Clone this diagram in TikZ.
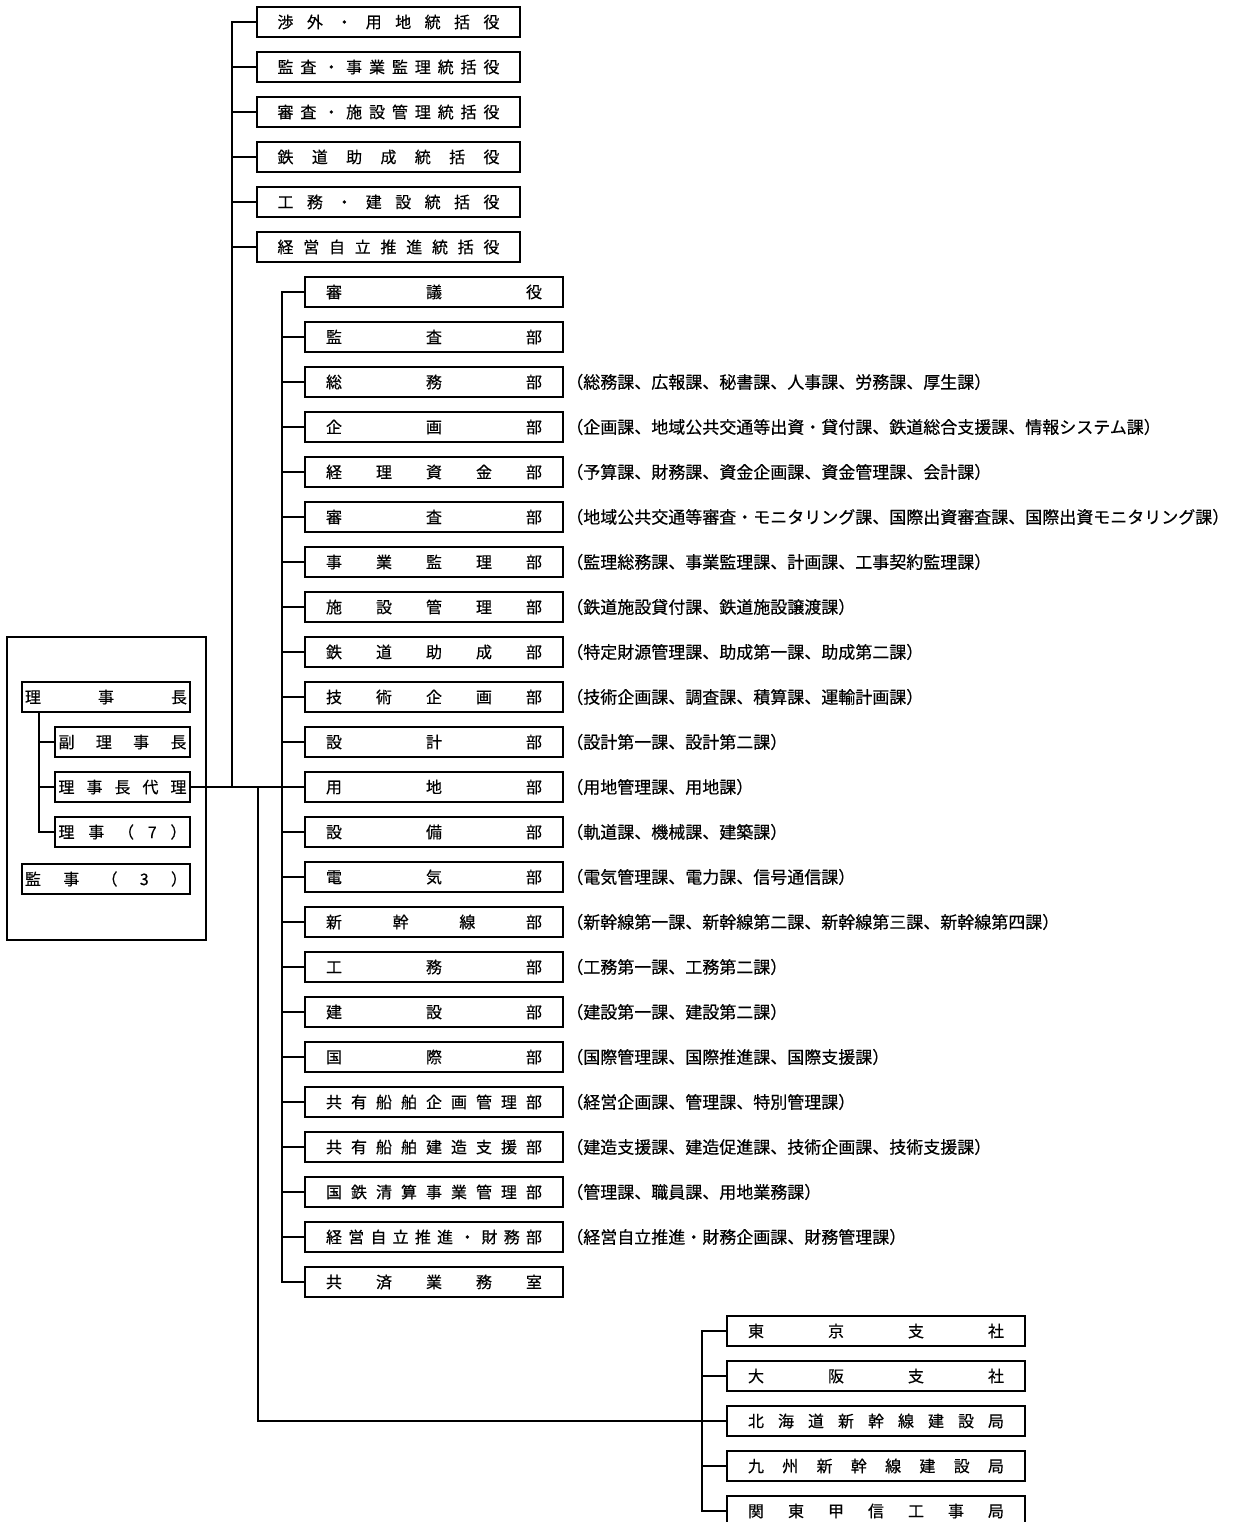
\documentclass[tikz,border=0pt]{standalone}
\usepackage{fontspec}
\setmainfont[FakeBold=0.4]{Noto Sans CJK JP}
\newfontfamily\notefont[FakeBold=0.4]{Noto Sans CJK JP}
\usetikzlibrary{positioning}

% spread the characters of #2 evenly over width #1
\makeatletter
\newcommand\spreadtxt[2]{\makebox[#1][s]{\let\sp@gap\relax\@tfor\sp@c:=#2\do{\sp@gap\sp@c\def\sp@gap{\hfill}}}}
\makeatother

\begin{document}
\begin{tikzpicture}[x=1pt,y=-1pt,line width=1.8pt,font=\fontsize{16}{16}\selectfont]
\tikzstyle{bx}=[draw,inner sep=0pt,minimum height=30pt]
\tikzstyle{tb}=[bx,minimum width=263pt]
\tikzstyle{db}=[bx,minimum width=258pt]
\tikzstyle{bb}=[bx,minimum width=298pt]
\tikzstyle{nt}=[inner sep=0pt,font=\notefont\fontsize{17}{17}\selectfont,right=1.5pt of #1]
\useasboundingbox (0,0) rectangle (1232,1522);
\clip (0,0) rectangle (1232,1522);

% executives
\node[draw,minimum width=199pt,minimum height=303pt] (grp) at (106.5,788.5) {};
\node[bx,minimum width=168pt] (r1) at (106,697) {\spreadtxt{162pt}{理事長}};
\node[bx,minimum width=135pt] (c1) at (122.5,742) {\spreadtxt{128pt}{副理事長}};
\node[bx,minimum width=135pt] (c2) at (122.5,787) {\spreadtxt{128pt}{理事長代理}};
\node[bx,minimum width=135pt] (c3) at (122.5,832) {\spreadtxt{128pt}{理事（7）}};
\node[bx,minimum width=168pt] (au) at (106,879) {\spreadtxt{162pt}{監事（3）}};
\draw ([xshift=18pt]r1.south west) |- (c3.west);
\draw (c1.west) -- ++(-15,0); \draw (c2.west) -- ++(-15,0);

% general managers
\node[tb] (t1) at (388.5,22) {\spreadtxt{222pt}{渉外・用地統括役}};
\node[tb] (t2) at (388.5,67) {\spreadtxt{222pt}{監査・事業監理統括役}};
\node[tb] (t3) at (388.5,112) {\spreadtxt{222pt}{審査・施設管理統括役}};
\node[tb] (t4) at (388.5,157) {\spreadtxt{222pt}{鉄道助成統括役}};
\node[tb] (t5) at (388.5,202) {\spreadtxt{222pt}{工務・建設統括役}};
\node[tb] (t6) at (388.5,247) {\spreadtxt{222pt}{経営自立推進統括役}};

% departments
\node[db] (d1) at (434,292) {\spreadtxt{216pt}{審議役}};
\node[db] (d2) at (434,337) {\spreadtxt{216pt}{監査部}};
\node[db] (d3) at (434,382) {\spreadtxt{216pt}{総務部}};
\node[db] (d4) at (434,427) {\spreadtxt{216pt}{企画部}};
\node[db] (d5) at (434,472) {\spreadtxt{216pt}{経理資金部}};
\node[db] (d6) at (434,517) {\spreadtxt{216pt}{審査部}};
\node[db] (d7) at (434,562) {\spreadtxt{216pt}{事業監理部}};
\node[db] (d8) at (434,607) {\spreadtxt{216pt}{施設管理部}};
\node[db] (d9) at (434,652) {\spreadtxt{216pt}{鉄道助成部}};
\node[db] (d10) at (434,697) {\spreadtxt{216pt}{技術企画部}};
\node[db] (d11) at (434,742) {\spreadtxt{216pt}{設計部}};
\node[db] (d12) at (434,787) {\spreadtxt{216pt}{用地部}};
\node[db] (d13) at (434,832) {\spreadtxt{216pt}{設備部}};
\node[db] (d14) at (434,877) {\spreadtxt{216pt}{電気部}};
\node[db] (d15) at (434,922) {\spreadtxt{216pt}{新幹線部}};
\node[db] (d16) at (434,967) {\spreadtxt{216pt}{工務部}};
\node[db] (d17) at (434,1012) {\spreadtxt{216pt}{建設部}};
\node[db] (d18) at (434,1057) {\spreadtxt{216pt}{国際部}};
\node[db] (d19) at (434,1102) {\spreadtxt{216pt}{共有船舶企画管理部}};
\node[db] (d20) at (434,1147) {\spreadtxt{216pt}{共有船舶建造支援部}};
\node[db] (d21) at (434,1192) {\spreadtxt{216pt}{国鉄清算事業管理部}};
\node[db] (d22) at (434,1237) {\spreadtxt{216pt}{経営自立推進・財務部}};
\node[db] (d23) at (434,1282) {\spreadtxt{216pt}{共済業務室}};

% sections
\node[nt=d3] (n3) {（総務課、広報課、秘書課、人事課、労務課、厚生課）};
\node[nt=d4] (n4) {（企画課、地域公共交通等出資・貸付課、鉄道総合支援課、情報システム課）};
\node[nt=d5] (n5) {（予算課、財務課、資金企画課、資金管理課、会計課）};
\node[nt=d6] (n6) {（地域公共交通等審査・モニタリング課、国際出資審査課、国際出資モニタリング課）};
\node[nt=d7] (n7) {（監理総務課、事業監理課、計画課、工事契約監理課）};
\node[nt=d8] (n8) {（鉄道施設貸付課、鉄道施設譲渡課）};
\node[nt=d9] (n9) {（特定財源管理課、助成第一課、助成第二課）};
\node[nt=d10] (n10) {（技術企画課、調査課、積算課、運輸計画課）};
\node[nt=d11] (n11) {（設計第一課、設計第二課）};
\node[nt=d12] (n12) {（用地管理課、用地課）};
\node[nt=d13] (n13) {（軌道課、機械課、建築課）};
\node[nt=d14] (n14) {（電気管理課、電力課、信号通信課）};
\node[nt=d15] (n15) {（新幹線第一課、新幹線第二課、新幹線第三課、新幹線第四課）};
\node[nt=d16] (n16) {（工務第一課、工務第二課）};
\node[nt=d17] (n17) {（建設第一課、建設第二課）};
\node[nt=d18] (n18) {（国際管理課、国際推進課、国際支援課）};
\node[nt=d19] (n19) {（経営企画課、管理課、特別管理課）};
\node[nt=d20] (n20) {（建造支援課、建造促進課、技術企画課、技術支援課）};
\node[nt=d21] (n21) {（管理課、職員課、用地業務課）};
\node[nt=d22] (n22) {（経営自立推進・財務企画課、財務管理課）};

% branch offices
\node[bb] (b1) at (876,1331) {\spreadtxt{256pt}{東京支社}};
\node[bb] (b2) at (876,1376) {\spreadtxt{256pt}{大阪支社}};
\node[bb] (b3) at (876,1421) {\spreadtxt{256pt}{北海道新幹線建設局}};
\node[bb] (b4) at (876,1466) {\spreadtxt{256pt}{九州新幹線建設局}};
\node[bb] (b5) at (876,1511) {\spreadtxt{256pt}{関東甲信工事局}};

% connectors
\coordinate (jt) at (232,787);
\coordinate (jd) at (282,787);
\coordinate (jb) at (258,787);
\draw (c2.east) -- (d12.west);
\draw (t1.west) -| (jt);
\foreach \i in {2,...,6} \draw (t\i.west) -- (t\i.west -| jt);
\draw (d1.west) -| (jd) |- (d23.west);
\foreach \i in {2,...,22} \draw (d\i.west) -- (d\i.west -| jd);
\draw (jb) |- (b3.west);
\draw (b1.west) -- ++(-24,0) |- (b5.west);
\draw (b2.west) -- ++(-24,0); \draw (b4.west) -- ++(-24,0);
\end{tikzpicture}
\end{document}
